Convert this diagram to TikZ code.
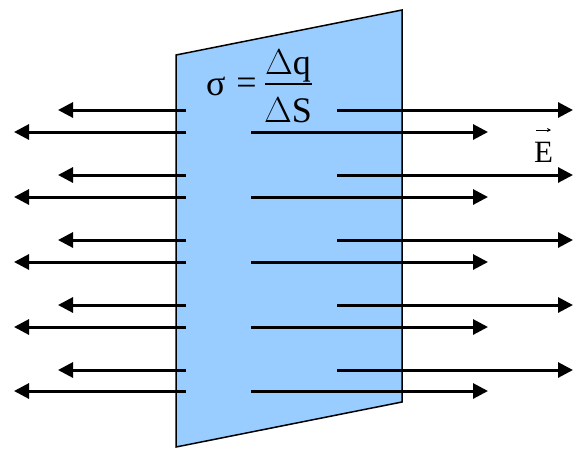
\RequirePackage{fix-cm}
\documentclass[tikz,border=0pt]{standalone}
\usepackage{fontspec}
\setmainfont{Liberation Serif}
\usetikzlibrary{arrows.meta}
\definecolor{plane}{RGB}{153,204,255}
\tikzset{
  fieldline/.style={line width=3pt,-{Triangle[length=15pt,width=15pt]}},
  sheet/.style={fill=plane,draw=black,line width=1.5pt,line join=miter},
  bigtxt/.style={inner sep=0pt,font=\fontsize{36}{40}\selectfont},
  etxt/.style={inner sep=0pt,font=\fontsize{31}{34}\selectfont}
}
\begin{document}
\begin{tikzpicture}[x=1pt,y=-1pt]
\useasboundingbox (0,0) rectangle (573,448);
% plane
\coordinate (p1) at (176,55);
\coordinate (p2) at (402,10);
\coordinate (p3) at (402,402);
\coordinate (p4) at (176,447);
\draw[sheet] (p1) -- (p2) -- (p3) -- (p4) -- cycle;
% field lines
\foreach \i/\ya/\yb in {1/110/132,2/175/197,3/240/262,4/305/327,5/370/391}{
  \coordinate (la\i) at (186,\ya);
  \coordinate (lat\i) at (58,\ya);
  \coordinate (ra\i) at (337,\ya);
  \coordinate (rat\i) at (573,\ya);
  \coordinate (lb\i) at (186,\yb);
  \coordinate (lbt\i) at (14,\yb);
  \coordinate (rb\i) at (251,\yb);
  \coordinate (rbt\i) at (488,\yb);
  \draw[fieldline] (la\i) -- (lat\i);
  \draw[fieldline] (ra\i) -- (rat\i);
  \draw[fieldline] (lb\i) -- (lbt\i);
  \draw[fieldline] (rb\i) -- (rbt\i);
}
% formula
\node[bigtxt,anchor=base west] (sig) at (206,95) {σ};
\node[bigtxt] (eq) at (246.5,86) {=};
\node[bigtxt,anchor=base] (num) at (288,74) {$\Delta$q};
\node[bigtxt,anchor=base] (den) at (288,122) {$\Delta$S};
\coordinate (bar1) at (265,84);
\coordinate (bar2) at (312,84);
\draw[line width=1.5pt] (bar1) -- (bar2);
% E label
\node[etxt,anchor=base] (E) at (543.5,162) {E};
\coordinate (va) at (536,130);
\coordinate (vb) at (551,130);
\draw[line width=0.9pt,-{Stealth[length=4pt,width=4pt]}] (va) -- (vb);
\end{tikzpicture}
\end{document}
